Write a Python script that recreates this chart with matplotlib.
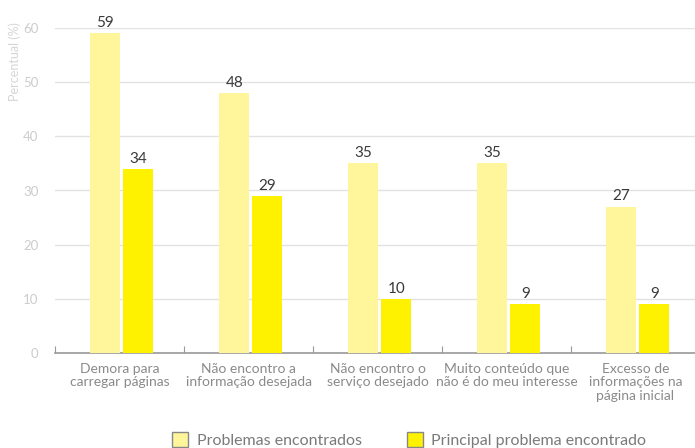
import numpy as np
import matplotlib
matplotlib.use("Agg")
import matplotlib.pyplot as plt
from matplotlib.patches import Patch

plt.rcParams['font.family'] = ['Lato', 'DejaVu Sans']

# Data
categories = [
    "Demora para\ncarregar páginas",
    "Não encontro a\ninformação desejada",
    "Não encontro o\nserviço desejado",
    "Muito conteúdo que\nnão é do meu interesse",
    "Excesso de\ninformações na\npágina inicial",
]
problemas = [59, 48, 35, 35, 27]
principal = [34, 29, 10, 9, 9]
series_names = ["Problemas encontrados", "Principal problema encontrado"]

light = "#fff59a"
yellow = "#fff200"

fig = plt.figure(figsize=(6.95, 4.48), dpi=100)
ax = fig.add_axes([55 / 695, 95 / 448, 645 / 695, 325 / 448])

x = np.arange(len(categories))
w = 0.233
b1 = ax.bar(x - 0.11, problemas, width=w, color=light, zorder=3)
b2 = ax.bar(x + 0.147, principal, width=w, color=yellow, zorder=3)

for bars, vals in [(b1, problemas), (b2, principal)]:
    for bar, v in zip(bars, vals):
        ax.text(bar.get_x() + bar.get_width() / 2, v + 0.6, str(v),
                ha="center", va="bottom", fontsize=11, color="#3a3a3a", zorder=4)

ax.set_xlim(-0.5, 4.5)
ax.set_ylim(0, 60)
ax.set_yticks(range(0, 61, 10))
ax.yaxis.grid(True, color="#e2e2e2", linewidth=1, zorder=0)
ax.tick_params(axis="y", length=0, labelsize=9.5, labelcolor="#cccccc", pad=12)

# boundaries carry the tick marks, category centres carry the labels
ax.set_xticks(np.arange(-0.5, 5, 1))
ax.set_xticklabels([])
ax.set_xticks(x, minor=True)
ax.set_xticklabels(categories, minor=True, fontsize=10, color="#8a8a8a",
                   linespacing=1.15)
ax.tick_params(axis="x", which="major", direction="in", length=5, color="#999999")
ax.tick_params(axis="x", which="minor", length=0, pad=7)

for s in ["top", "right", "left"]:
    ax.spines[s].set_visible(False)
ax.spines["bottom"].set_color("#999999")
ax.spines["bottom"].set_linewidth(1.2)

fig.text(15 / 695, 1 - 62 / 448, "Percentual (%)", rotation=90, ha="center",
         va="center", fontsize=9, color="#d5d5d5")

handles = [Patch(facecolor=light, edgecolor="#888888"),
           Patch(facecolor=yellow, edgecolor="#888888")]
fig.legend(handles, series_names, loc="lower center", bbox_to_anchor=(0.589, -0.032),
           ncol=2, frameon=False, fontsize=11.5, labelcolor="#7a7a7a",
           handlelength=1.0, handleheight=1.0, columnspacing=2.8, handletextpad=0.55)

fig.savefig("out.png", dpi=100)
